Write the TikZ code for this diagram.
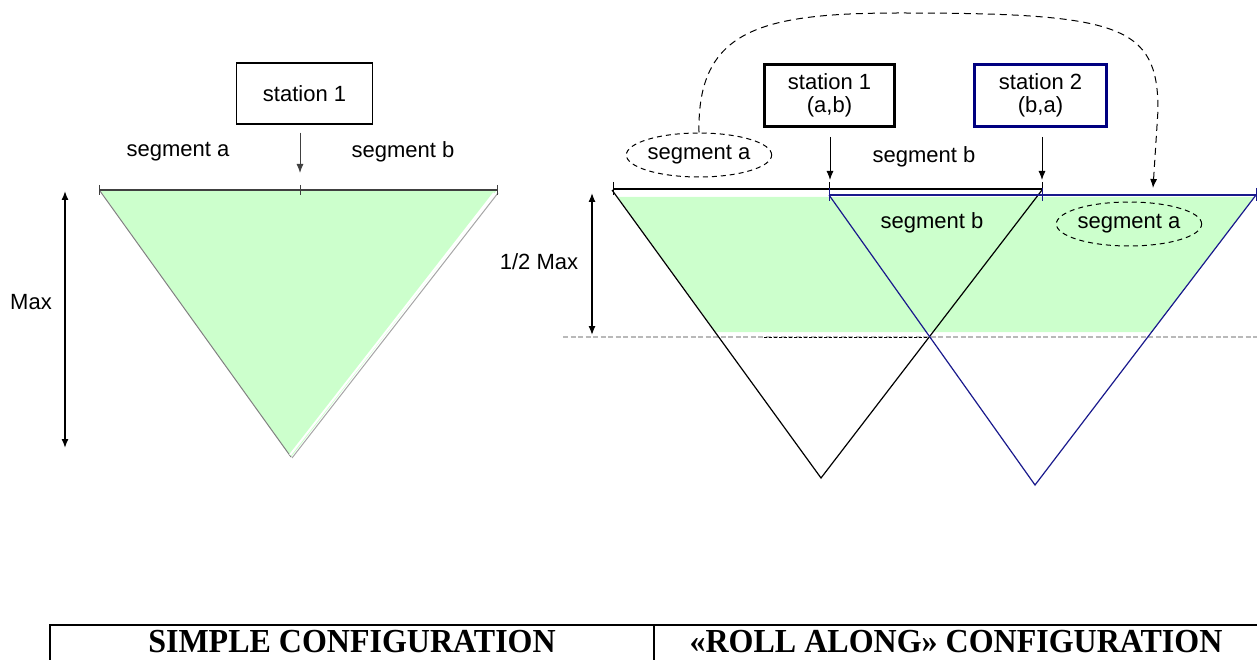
\documentclass[tikz,border=0pt]{standalone}
\usepackage{fontspec}
\setmainfont{Liberation Serif}
\setsansfont{Liberation Sans}
\usetikzlibrary{shapes.geometric,arrows.meta}

\definecolor{fillgreen}{RGB}{204,255,204}
\definecolor{navyline}{RGB}{25,25,140}
\definecolor{navybox}{RGB}{0,0,128}

\begin{document}
\begin{tikzpicture}[x=1pt,y=-1pt,line width=1pt,>={Latex[length=9pt,width=7pt]},
    txt/.style={font=\sffamily\fontsize{22}{23}\selectfont,inner sep=0pt},
    stationbox/.style={txt,draw,align=center},
    segmark/.style={txt,ellipse,draw,dash pattern=on 5pt off 4pt,minimum width=136pt,minimum height=44pt},
    heading/.style={font=\bfseries\fontsize{32}{34}\selectfont,anchor=base,inner sep=0pt}]
  \useasboundingbox (0,0) rectangle (1257,660);

  % simple configuration
  \fill[fillgreen] (100,190) -- (497,190) -- (291,457) -- cycle;
  \draw[gray] (100,191) -- (291,457);
  \draw[white,line width=2pt] (494,193) -- (290,455);
  \draw[gray!70] (498,193) -- (292,458);
  \draw[darkgray,line width=1.3pt] (99,190) -- (497,190);
  \foreach \x in {99,300,497} {
    \draw[darkgray] (\x,185) -- (\x,195);
  }

  \node[stationbox,line width=1.3pt,minimum width=136pt,minimum height=61pt] (s0) at (304.5,93.5) {station 1};
  \coordinate (m0) at (300,173);
  \draw[->,darkgray,shorten <=8pt] (s0.south -| m0) -- (m0);
  \node[txt] (sa0) at (178,152) {segment a};
  \node[txt] (sb0) at (403,152) {segment b};

  \coordinate (mt) at (65,191);
  \coordinate (mb) at (65,448);
  \draw[<->,line width=1.4pt] (mt) -- (mb);
  \node[txt] (mx) at (31,302) {Max};

  % roll along configuration
  \fill[fillgreen] (618,197) -- (1254,197) -- (1152,332) -- (716,332) -- cycle;
  \draw[gray!55,line width=2pt,dash pattern=on 5pt off 2.5pt] (563,337) -- (1257,337);
  \draw[dash pattern=on 3pt off 2pt] (764,337) -- (929,337);

  \draw[line width=1.2pt] (612,190) -- (821,478) -- (1042,190);
  \draw[navyline,line width=1.2pt] (829,195) -- (1035,485) -- (1256,195);
  \draw[navyline,line width=1.4pt] (829,195) -- (1257,195);
  \draw[line width=1.6pt] (613,189) -- (1042,189);
  \foreach \x in {613,829,1042} {
    \draw (\x,182) -- (\x,195);
  }
  \foreach \x in {829,1042,1256} {
    \draw[navyline] (\x,188) -- (\x,201);
  }

  \node[stationbox,line width=3pt,minimum width=130pt,minimum height=62pt] (rs1) at (829.5,95.5) {station 1\\(a,b)};
  \node[stationbox,line width=3pt,draw=navybox,minimum width=132pt,minimum height=62pt] (rs2) at (1040.5,95.5) {station 2\\(b,a)};
  \coordinate (t1) at (830,180);
  \coordinate (t2) at (1042,180);
  \draw[->,shorten <=9pt] (rs1.south -| t1) -- (t1);
  \draw[->,shorten <=9pt] (rs2.south -| t2) -- (t2);

  \node[segmark] (sa1) at (699,155) {segment a};
  \node[txt] (sb1) at (924,157) {segment b};
  \node[txt] (sb2) at (932,223) {segment b};
  \node[segmark] (sa2) at (1129,224) {segment a};

  \coordinate (ta) at (1153,188);
  \draw[->,dash pattern=on 7pt off 5pt] (sa1.north) .. controls (697,30) and (760,13) .. (900,13)
    .. controls (1120,13) and (1158,25) .. (1158,110) -- (ta);

  \coordinate (ht) at (592,193);
  \coordinate (hb) at (592,335);
  \draw[<->,line width=1.3pt] (ht) -- (hb);
  \node[txt] (hm) at (539,262) {1/2 Max};

  % table
  \draw[line width=1.5pt] (50,662) -- (50,625) -- (1258,625);
  \draw[line width=1.5pt] (654,625) -- (654,662);
  \node[heading] (cs) at (352,652) {\scalebox{1}[1.05]{SIMPLE CONFIGURATION}};
  \node[heading] (cr) at (956,652) {\scalebox{1}[1.05]{«ROLL ALONG» CONFIGURATION}};
\end{tikzpicture}
\end{document}
